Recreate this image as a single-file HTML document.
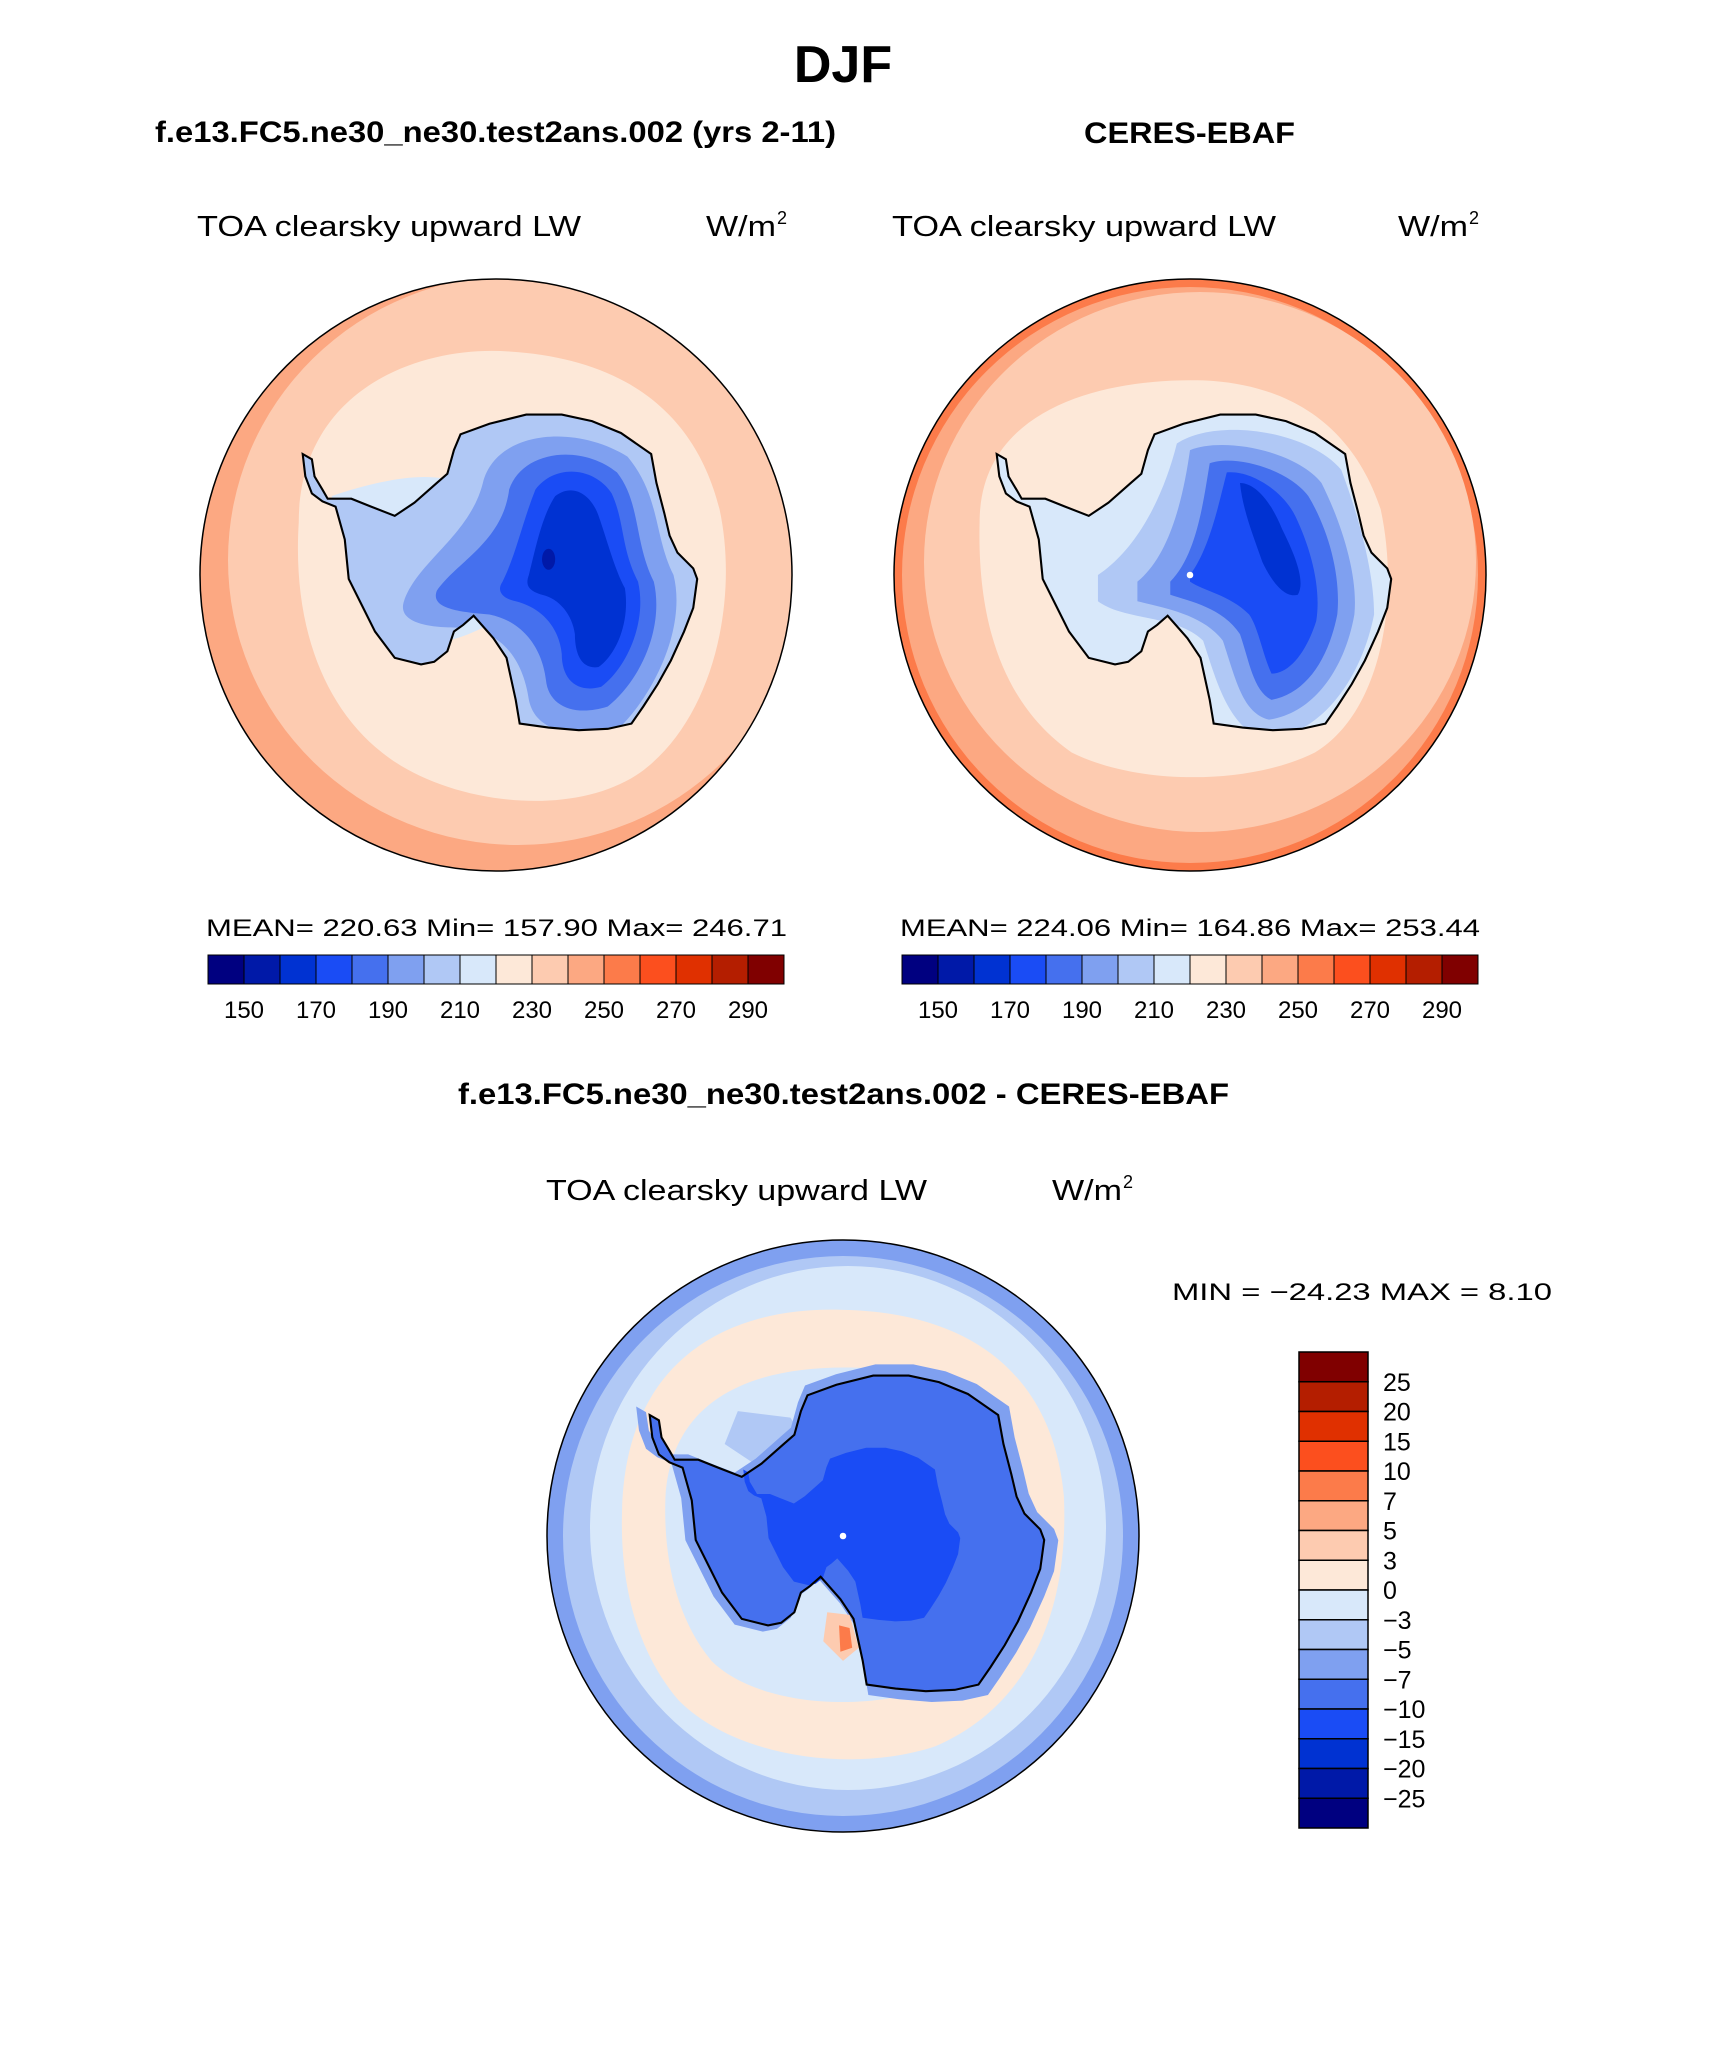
<!DOCTYPE html>
<html><head><meta charset="utf-8"><style>body{margin:0;background:#fff}svg{display:block}text{font-family:"Liberation Sans",sans-serif}</style></head>
<body>
<svg width="1710" height="2061" viewBox="0 0 1710 2061">
<defs>
<clipPath id="cl"><circle cx="496" cy="575" r="296"/></clipPath>
<clipPath id="cr"><circle cx="1190" cy="575" r="296"/></clipPath>
<clipPath id="cb"><circle cx="843" cy="1536" r="296"/></clipPath>
<path id="coast" d="M-147,-92 L-140,-88 L-138,-75 L-132,-65 L-128,-58 L-110,-58 L-95,-52 L-77,-45 L-62,-55 L-45,-70 L-37,-77 L-32,-95 L-27,-107 L-5,-115 L23,-122 L50,-122 L73,-117 L95,-108 L118,-92 L122,-70 L128,-47 L132,-30 L138,-17 L150,-5 L153,3 L150,25 L143,43 L133,65 L123,83 L112,100 L103,113 L85,117 L63,118 L40,116 L18,113 L15,95 L8,63 L-2,48 L-17,31 L-25,38 L-32,43 L-37,58 L-47,66 L-57,68 L-77,63 L-92,43 L-102,23 L-112,3 L-115,-27 L-122,-52 L-132,-56 L-140,-62 L-145,-75 Z"/>
<clipPath id="cc"><use href="#coast"/></clipPath>
</defs>

<text x="843" y="82" text-anchor="middle" font-size="52" font-weight="bold">DJF</text>
<text x="155" y="142" font-size="30" font-weight="bold" textLength="681" lengthAdjust="spacingAndGlyphs">f.e13.FC5.ne30_ne30.test2ans.002 (yrs 2-11)</text>
<text x="1084" y="143" font-size="30" font-weight="bold" textLength="211" lengthAdjust="spacingAndGlyphs">CERES-EBAF</text>

<g font-size="29" fill="#000">
<text x="197" y="236" textLength="384" lengthAdjust="spacingAndGlyphs">TOA clearsky upward LW</text>
<text x="706" y="236" textLength="70" lengthAdjust="spacingAndGlyphs">W/m</text><text x="777" y="224" font-size="18">2</text>
<text x="892" y="236" textLength="384" lengthAdjust="spacingAndGlyphs">TOA clearsky upward LW</text>
<text x="1398" y="236" textLength="70" lengthAdjust="spacingAndGlyphs">W/m</text><text x="1469" y="224" font-size="18">2</text>
</g>

<!-- Left map -->
<g clip-path="url(#cl)">
<rect x="190" y="270" width="620" height="620" fill="#fca882"/>
<ellipse cx="518" cy="560" rx="290" ry="285" fill="#fdcbb0"/>
<g transform="translate(496,575) scale(1.315)">
<path d="M-150,-40 C-150,-140 -60,-175 10,-170 C90,-165 150,-130 170,-50 C185,20 165,110 110,150 C60,185 -30,175 -80,140 C-130,105 -155,40 -150,-40 Z" fill="#fde8d8"/>
<path d="M-125,-60 C-90,-72 -50,-80 -30,-70 L-10,40 C-50,60 -90,60 -110,-10 Z" fill="#d8e8fa"/>
<use href="#coast" fill="#b0c8f5"/>
<g clip-path="url(#cc)">
<path d="M-70,20 C-60,-10 -20,-30 -10,-70 C0,-110 60,-115 100,-90 C125,-60 120,-30 135,0 C145,40 120,90 95,115 C60,125 30,120 25,95 C20,60 0,40 -30,40 C-55,40 -75,35 -70,20 Z" fill="#7fa0f0"/>
<path d="M-45,12 C-30,-10 5,-25 10,-65 C20,-95 65,-100 92,-78 C110,-55 105,-25 120,5 C128,40 110,80 85,100 C60,108 40,100 38,80 C35,55 20,35 -5,30 C-30,28 -50,25 -45,12 Z" fill="#4570ee"/>
<path d="M5,5 C15,-15 20,-40 30,-65 C45,-85 75,-82 88,-62 C98,-40 95,-20 108,5 C115,35 100,70 80,85 C62,90 50,80 50,60 C48,40 35,25 15,20 C5,18 0,12 5,5 Z" fill="#1a4cf5"/>
<path d="M25,0 C30,-20 35,-45 45,-60 C58,-70 72,-62 78,-45 C85,-25 90,-5 98,10 C102,35 92,60 78,70 C65,72 60,60 60,45 C58,30 48,18 35,15 C25,12 22,8 25,0 Z" fill="#0032d2"/>
</g>
<ellipse cx="40" cy="-12" rx="5" ry="8" fill="#0019a8"/>
<use href="#coast" fill="none" stroke="#000" stroke-width="1.6"/>
</g>
</g>
<circle cx="496" cy="575" r="296" fill="none" stroke="#000" stroke-width="1.5"/>

<!-- Right map -->
<g clip-path="url(#cr)">
<rect x="884" y="270" width="620" height="620" fill="#fc7b4a"/>
<circle cx="1190" cy="575" r="288" fill="#fca882"/>
<ellipse cx="1200" cy="562" rx="276" ry="270" fill="#fdcbb0"/>
<g transform="translate(1190,575) scale(1.315)">
<path d="M-160,-40 C-160,-130 -60,-150 10,-148 C80,-145 125,-110 145,-50 C160,20 145,105 95,135 C45,160 -40,160 -90,135 C-140,100 -162,40 -160,-40 Z" fill="#fde8d8"/>
<use href="#coast" fill="#d8e8fa"/>
<g clip-path="url(#cc)">
<path d="M-70,0 C-40,-20 -20,-60 -10,-100 C20,-120 90,-110 115,-80 C130,-40 140,0 140,30 C130,80 100,120 60,125 C30,120 20,80 10,50 C-10,30 -50,35 -70,20 Z" fill="#b0c8f5"/>
<path d="M-40,5 C-15,-15 -5,-60 0,-95 C25,-105 80,-95 100,-70 C115,-40 128,0 125,30 C118,70 95,105 60,110 C40,105 35,80 25,50 C10,30 -20,25 -40,20 Z" fill="#7fa0f0"/>
<path d="M-15,5 C5,-15 10,-55 15,-85 C35,-92 75,-80 90,-60 C105,-35 115,0 112,30 C105,65 88,90 62,95 C48,88 45,65 38,45 C25,25 0,20 -15,15 Z" fill="#4570ee"/>
<path d="M0,0 C15,-20 22,-55 28,-78 C45,-80 70,-65 80,-45 C92,-20 100,10 96,35 C88,60 75,75 62,75 C55,60 52,40 45,30 C30,15 10,12 0,5 Z" fill="#1a4cf5"/>
<path d="M38,-70 C50,-70 62,-55 70,-35 C80,-15 88,5 82,15 C72,18 62,5 55,-10 C48,-30 40,-50 38,-70 Z" fill="#0032d2"/>
</g>
<circle cx="0" cy="0" r="2.5" fill="#fff"/>
<use href="#coast" fill="none" stroke="#000" stroke-width="1.6"/>
</g>
</g>
<circle cx="1190" cy="575" r="296" fill="none" stroke="#000" stroke-width="1.5"/>

<g font-size="24">
<text x="206" y="936" textLength="581" lengthAdjust="spacingAndGlyphs">MEAN= 220.63   Min= 157.90   Max= 246.71</text>
<text x="900" y="936" textLength="580" lengthAdjust="spacingAndGlyphs">MEAN= 224.06   Min= 164.86   Max= 253.44</text>
</g>
<g id="hbars"></g>

<text x="458" y="1104" font-size="30" font-weight="bold" textLength="771" lengthAdjust="spacingAndGlyphs">f.e13.FC5.ne30_ne30.test2ans.002 - CERES-EBAF</text>
<text x="546" y="1200" font-size="29" textLength="381" lengthAdjust="spacingAndGlyphs">TOA clearsky upward LW</text>
<text x="1052" y="1200" font-size="29" textLength="70" lengthAdjust="spacingAndGlyphs">W/m</text><text x="1123" y="1188" font-size="18">2</text>

<!-- Diff map -->
<g clip-path="url(#cb)">
<rect x="540" y="1230" width="620" height="620" fill="#7fa0f0"/>
<circle cx="843" cy="1536" r="280" fill="#b0c8f5"/>
<ellipse cx="848" cy="1528" rx="258" ry="262" fill="#d8e8fa"/>
<g transform="translate(843,1536) scale(1.315)">
<path d="M-168,-20 C-165,-140 -80,-175 0,-172 C100,-170 160,-120 168,-30 C172,60 140,130 70,160 C10,180 -80,170 -125,125 C-155,90 -170,40 -168,-20 Z" fill="#fde8d8"/>
<path d="M-135,-30 C-130,-110 -60,-130 10,-128 C80,-126 135,-90 138,-20 C142,50 118,105 60,118 C0,135 -70,125 -100,95 C-125,65 -137,20 -135,-30 Z" fill="#d8e8fa"/>
<path d="M-80,-95 L-40,-90 L-20,-60 L-60,-50 L-90,-70 Z" fill="#b0c8f5"/>
<use href="#coast" fill="#7fa0f0" transform="scale(1.07)"/>
<use href="#coast" fill="#4570ee"/>
<use href="#coast" fill="#1a4cf5" transform="translate(5,0) scale(0.55)"/>
<path d="M-12,58 L5,60 L12,85 L0,95 L-15,80 Z" fill="#fdcbb0"/>
<path d="M-3,68 L5,70 L7,85 L-2,88 Z" fill="#fc7b4a"/>
<circle cx="0" cy="0" r="2.5" fill="#fff"/>
<use href="#coast" fill="none" stroke="#000" stroke-width="1.6"/>
</g>
</g>
<circle cx="843" cy="1536" r="296" fill="none" stroke="#000" stroke-width="1.5"/>

<text x="1172" y="1300" font-size="24" textLength="380" lengthAdjust="spacingAndGlyphs">MIN = −24.23 MAX =    8.10</text>
<g id="vbar"></g>

<script>
const palette = ['#000080','#0019a8','#0032d2','#1a4cf5','#4570ee','#7fa0f0','#b0c8f5','#d8e8fa','#fde8d8','#fdcbb0','#fca882','#fc7b4a','#fc4f1e','#e03000','#b41e00','#800000'];
const absTicks = ['150','170','190','210','230','250','270','290'];
const diffTicks = ['25','20','15','10','7','5','3','0','−3','−5','−7','−10','−15','−20','−25'];
const NS='http://www.w3.org/2000/svg';
function mk(t,a,p){const e=document.createElementNS(NS,t);for(const k in a)e.setAttribute(k,a[k]);p.appendChild(e);return e;}
const hb=document.getElementById('hbars');
[[208,'left'],[902,'right']].forEach(([x0,side])=>{
  const w=576/palette.length;
  palette.forEach((c,i)=>{
    const r=mk('rect',{x:x0+i*w,y:955,width:w,height:29,fill:c,stroke:'#000','stroke-width':1},hb);
    
    
  });
  absTicks.forEach((t,i)=>{
    const tx=mk('text',{x:x0+(1+2*i)*w,y:1018,'text-anchor':'middle','font-size':24},hb);
    tx.textContent=t;
    
    
  });
});
const vb=document.getElementById('vbar');
const y0=1352,h=476/palette.length;
palette.slice().reverse().forEach((c,i)=>{
  const r=mk('rect',{x:1299,y:y0+i*h,width:69,height:h,fill:c,stroke:'#000','stroke-width':1.5},vb);
  
  
});
diffTicks.forEach((t,i)=>{
  const tx=mk('text',{x:1383,y:y0+(i+1)*h+9,'font-size':25},vb);
  tx.textContent=t;
  
  
});
</script>
</svg>
</body></html>
